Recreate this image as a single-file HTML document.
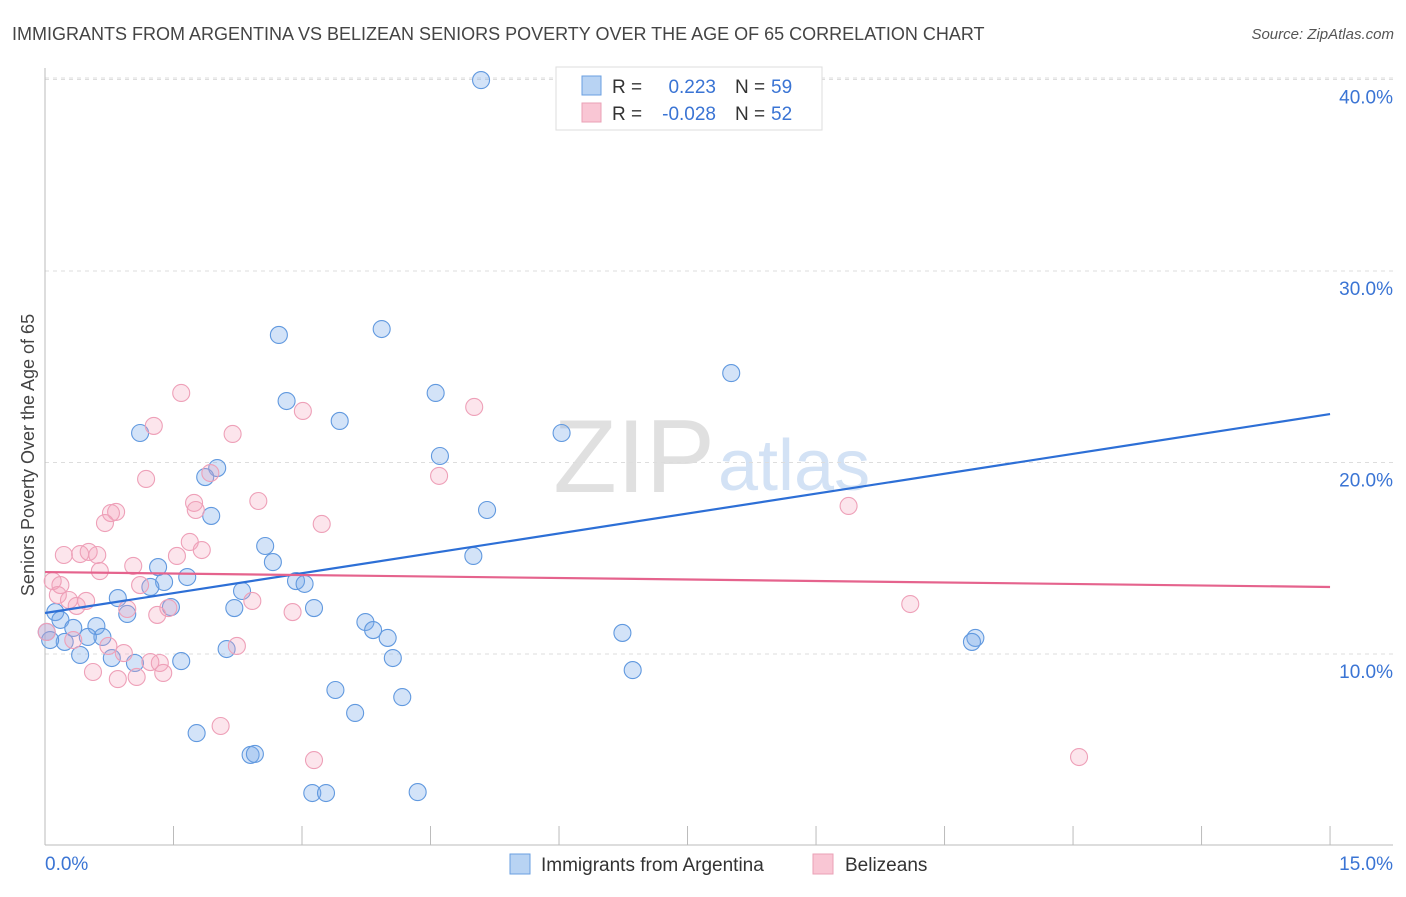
<!DOCTYPE html>
<html><head><meta charset="utf-8"><style>
body{margin:0;background:#fff;font-family:"Liberation Sans",sans-serif}
svg text{font-family:"Liberation Sans",sans-serif}
</style></head><body>
<svg id="chart" width="1406" height="892" xmlns="http://www.w3.org/2000/svg">
<text x="12" y="40" font-size="18" fill="#444">IMMIGRANTS FROM ARGENTINA VS BELIZEAN SENIORS POVERTY OVER THE AGE OF 65 CORRELATION CHART</text>
<text x="1394" y="39" font-size="15" fill="#555" text-anchor="end" font-style="italic">Source: ZipAtlas.com</text>
<text x="715" y="492" font-size="104" fill="#e0e0e0" text-anchor="end" font-family="Liberation Serif">ZIP</text>
<text x="718" y="490" font-size="72" fill="#d3e2f5">atlas</text>
<g id="grid"></g><g id="axes"></g><g id="pts"></g><g id="lines"></g>
<text transform="translate(34,455) rotate(-90)" font-size="18" fill="#444" text-anchor="middle">Seniors Poverty Over the Age of 65</text>
<g>
<rect x="556" y="67" width="266" height="63" fill="#fff" stroke="#ddd"/>
<rect x="582" y="76" width="19" height="19" fill="#b8d3f3" stroke="#6a9fe0"/>
<rect x="582" y="103" width="19" height="19" fill="#f9c6d4" stroke="#eaa0b6"/>
<text x="612" y="93" font-size="19" fill="#333">R = </text><text x="716" y="93" font-size="19" fill="#3a74d4" text-anchor="end">0.223</text>
<text x="735" y="93" font-size="19" fill="#333">N = </text><text x="771" y="93" font-size="19" fill="#3a74d4">59</text>
<text x="612" y="120" font-size="19" fill="#333">R = </text><text x="716" y="120" font-size="19" fill="#3a74d4" text-anchor="end">-0.028</text>
<text x="735" y="120" font-size="19" fill="#333">N = </text><text x="771" y="120" font-size="19" fill="#3a74d4">52</text>
</g>
<g>
<rect x="510" y="854" width="20" height="20" fill="#b8d3f3" stroke="#6a9fe0"/>
<text x="541" y="871" font-size="19" fill="#333">Immigrants from Argentina</text>
<rect x="813" y="854" width="20" height="20" fill="#f9c6d4" stroke="#eaa0b6"/>
<text x="845" y="871" font-size="19" fill="#333">Belizeans</text>
</g>
</svg>
<script>
const yTicks=[10,20,30,40];
const yTickLabels=["10.0%","20.0%","30.0%","40.0%"];
const xTicks=[0,1.5,3,4.5,6,7.5,9,10.5,12,13.5,15];
const blueX=[5.09,2.73,3.93,8.01,2.82,4.56,3.44,1.11,6.03,4.61,2.01,1.87,5.16,1.94,2.57,5.00,2.66,1.32,1.66,1.39,1.23,2.93,3.03,2.30,0.85,1.47,2.21,3.14,0.96,0.12,0.18,3.74,0.33,0.60,3.83,4.00,6.74,0.67,0.50,0.23,10.86,10.82,0.02,0.06,0.41,0.78,1.59,1.05,2.12,4.06,6.86,3.39,4.17,3.62,1.77,2.40,2.45,3.12,3.28,4.35];
const blueY=[39.97,26.66,26.97,24.67,23.21,23.63,22.17,21.54,21.54,20.34,19.71,19.24,17.52,17.21,15.64,15.12,14.80,14.54,14.02,13.76,13.50,13.81,13.66,13.29,12.92,12.45,12.40,12.40,12.09,12.19,11.78,11.67,11.36,11.46,11.25,10.84,11.10,10.89,10.89,10.63,10.84,10.63,11.15,10.73,9.95,9.79,9.63,9.53,10.26,9.79,9.16,8.12,7.75,6.92,5.87,4.73,4.78,2.74,2.74,2.79];
const pinkX=[1.59,1.27,3.01,5.01,2.19,1.18,1.93,4.60,2.49,1.74,1.76,9.38,0.83,0.77,0.70,3.23,1.69,1.83,0.22,0.41,0.51,0.61,1.54,1.03,0.64,0.09,0.18,1.11,0.15,0.28,0.48,0.37,2.42,0.96,2.89,1.31,1.44,10.10,2.24,0.74,0.92,0.33,1.23,1.34,0.56,1.38,0.85,1.07,2.05,3.14,12.07,0.02];
const pinkY=[23.63,21.91,22.69,22.90,21.49,19.14,19.45,19.30,17.99,17.89,17.52,17.73,17.42,17.36,16.84,16.79,15.85,15.43,15.17,15.22,15.33,15.17,15.12,14.60,14.33,13.81,13.60,13.60,13.08,12.82,12.77,12.51,12.77,12.35,12.19,12.04,12.40,12.61,10.42,10.42,10.05,10.73,9.58,9.53,9.06,9.01,8.69,8.80,6.24,4.46,4.62,11.15];
const blueTrend=[12.14,22.53];
const pinkTrend=[14.28,13.50];
const X=v=>45+v*85.67, Y=v=>845.5-v*19.15;
const NS="http://www.w3.org/2000/svg";
function mk(t,a,p){const e=document.createElementNS(NS,t);for(const k in a)e.setAttribute(k,a[k]);p.appendChild(e);return e;}
const grid=document.getElementById('grid'),axes=document.getElementById('axes'),pts=document.getElementById('pts'),lines=document.getElementById('lines');
yTicks.forEach((t,i)=>{
 const l=mk('line',{x1:45,x2:1393,y1:Y(t),y2:Y(t),stroke:'#ddd','stroke-dasharray':'4,4'},grid);
 
 
 const tx=mk('text',{x:1393,y:Y(t)+24,'font-size':19,fill:'#3a74d4','text-anchor':'end'},axes);
 tx.textContent=yTickLabels[i];
 
 
});
const topG=mk('line',{x1:45,x2:1393,y1:78,y2:78,stroke:'#ddd','stroke-dasharray':'4,4'},grid);


const ya=mk('line',{x1:45,x2:45,y1:68,y2:845,stroke:'#bbb'},axes);


const xa=mk('line',{x1:45,x2:1393,y1:845,y2:845,stroke:'#bbb'},axes);


xTicks.forEach(t=>{
 const l=mk('line',{x1:X(t),x2:X(t),y1:826,y2:845,stroke:'#bbb'},axes);
 
 
});
[[0,"0.0%","start",45],[15,"15.0%","end",1393]].forEach(d=>{
 const tx=mk('text',{x:d[3],y:870,'font-size':19,fill:'#3a74d4','text-anchor':d[2]},axes);
 tx.textContent=d[1];
 
 
});
blueX.forEach((v,i)=>{
 const c=mk('circle',{cx:X(v),cy:Y(blueY[i]),r:8.5,fill:'rgba(120,170,235,0.33)',stroke:'#6199df','stroke-width':1.1},pts);
 
 
});
pinkX.forEach((v,i)=>{
 const c=mk('circle',{cx:X(v),cy:Y(pinkY[i]),r:8.5,fill:'rgba(245,160,185,0.28)',stroke:'#eea0b8','stroke-width':1.1},pts);
 
 
});
const bl=mk('line',{x1:X(0),x2:X(15),y1:Y(blueTrend[0]),y2:Y(blueTrend[1]),stroke:'#2d6fd6','stroke-width':2.2},lines);


const pl=mk('line',{x1:X(0),x2:X(15),y1:Y(pinkTrend[0]),y2:Y(pinkTrend[1]),stroke:'#e5638d','stroke-width':2.2},lines);


</script>
</body></html>
